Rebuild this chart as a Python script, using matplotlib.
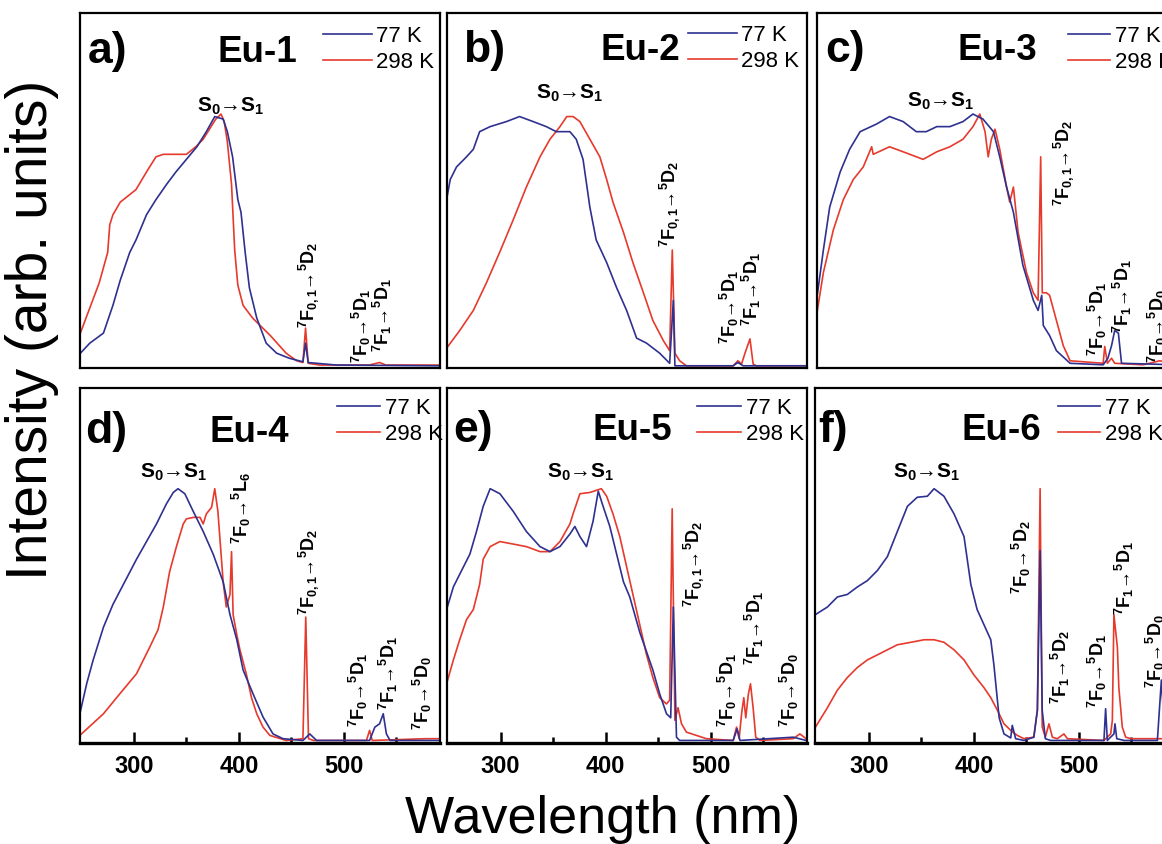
"""Eu-1 ... Eu-6 excitation spectra at 77 K and 298 K (six-panel figure)."""
import matplotlib
matplotlib.use("Agg")
import matplotlib.pyplot as plt

# ---- data: wavelength (nm) / normalised intensity ----
a_wl_77 = [249, 258, 271, 280, 287, 296, 302, 312, 321, 331, 340, 350, 360, 369, 377, 385, 389, 394,
           399, 402, 406, 410, 417, 426, 436, 448, 461, 463.5, 466, 493, 591]
a_int_77 = [0.05, 0.09, 0.13, 0.24, 0.34, 0.45, 0.50, 0.60, 0.66, 0.72, 0.77, 0.82, 0.87, 0.93, 0.99,
            0.98, 0.93, 0.83, 0.66, 0.61, 0.45, 0.31, 0.19, 0.09, 0.05, 0.03, 0.016, 0.09, 0.013, 0.003, 0.0]
a_wl_298 = [249, 258, 267, 275, 277, 280, 287, 302, 312, 321, 328, 340, 350, 359, 366, 372, 378, 383,
            386, 389, 393, 396, 399, 404, 413, 430, 445, 455, 461, 463.5, 466, 477, 524, 534, 537, 540, 591]
a_int_298 = [0.13, 0.23, 0.33, 0.45, 0.56, 0.60, 0.65, 0.70, 0.77, 0.83, 0.84, 0.84, 0.84, 0.87, 0.90,
             0.94, 0.98, 1.0, 0.97, 0.89, 0.72, 0.46, 0.32, 0.24, 0.19, 0.12, 0.05, 0.02, 0.013, 0.15,
             0.01, 0.003, 0.003, 0.013, 0.008, 0.003, 0.003]

b_wl_77 = [248.5, 252, 258, 267.5, 274, 280, 290, 305.5, 318, 331, 343.5, 353, 366, 372, 378.5, 385,
           391, 401, 410.5, 420, 429.5, 439, 451.5, 461, 464.5, 466, 470.5, 521.5, 526, 531, 591]
b_int_77 = [0.66, 0.74, 0.79, 0.83, 0.86, 0.93, 0.95, 0.97, 0.99, 0.97, 0.95, 0.93, 0.93, 0.90, 0.82,
            0.63, 0.50, 0.41, 0.31, 0.22, 0.11, 0.09, 0.05, 0.01, 0.26, 0.0, 0.0, 0.0, 0.013, 0.0, 0.0]
b_wl_298 = [248.5, 261, 274, 286.5, 299, 312, 324.5, 337.5, 347, 356.5, 363, 369, 375.5, 385, 394.5,
            401, 407, 417, 426, 436, 445, 455, 461, 463.5, 466, 470.5, 477, 521.5, 526, 529.5, 532.5,
            537.5, 540.5, 543.5, 591]
b_int_298 = [0.07, 0.14, 0.22, 0.33, 0.45, 0.58, 0.71, 0.83, 0.90, 0.95, 0.99, 0.99, 0.97, 0.90, 0.83,
             0.74, 0.65, 0.53, 0.41, 0.29, 0.18, 0.10, 0.06, 0.46, 0.05, 0.02, 0.0, 0.0, 0.02, 0.007,
             0.047, 0.107, 0.007, 0.0, 0.0]

c_wl_77 = [248.5, 255, 261, 271, 280, 290, 305.5, 318, 331, 343.5, 353, 363, 375.5, 388, 397.5, 407,
           417, 423, 429.5, 436, 445, 455, 459.5, 463, 464.5, 470.5, 477, 490, 521.5, 526, 529.5, 532.5,
           536, 539, 591]
c_int_77 = [0.26, 0.46, 0.63, 0.77, 0.86, 0.93, 0.96, 0.99, 0.97, 0.93, 0.93, 0.95, 0.95, 0.97, 1.0,
            0.98, 0.93, 0.83, 0.71, 0.61, 0.40, 0.26, 0.22, 0.28, 0.16, 0.12, 0.06, 0.01, 0.004, 0.03,
            0.08, 0.14, 0.13, 0.01, 0.004]
c_wl_298 = [248.5, 255, 264.5, 274, 283.5, 293, 301, 302.5, 318, 331, 350, 363, 375.5, 388, 397.5, 404,
            409, 412, 415, 418.5, 423, 429.5, 432.5, 436, 440.5, 448.5, 455, 459.5, 462, 463.5, 467.5,
            470.5, 477, 483.5, 490, 521.5, 523, 525.5, 529.5, 532.5, 559.5, 575.5, 591]
c_int_298 = [0.20, 0.37, 0.54, 0.66, 0.74, 0.79, 0.87, 0.84, 0.87, 0.85, 0.82, 0.85, 0.87, 0.90, 0.95,
             1.0, 0.93, 0.83, 0.90, 0.94, 0.86, 0.71, 0.65, 0.71, 0.53, 0.37, 0.29, 0.26, 0.83, 0.29,
             0.29, 0.28, 0.18, 0.08, 0.02, 0.01, 0.077, 0.01, 0.03, 0.01, 0.004, 0.02, 0.004]

d_wl_77 = [248.5, 255, 261, 271, 280, 290, 302.5, 312, 321.5, 331, 337.5, 342, 348.5, 356.5, 366, 375.5,
           385, 391.5, 398, 404, 413.5, 423, 432.5, 442, 461, 467.5, 474, 524.5, 529.5, 534, 537.5,
           540.5, 544, 591]
d_int_77 = [0.106, 0.225, 0.317, 0.45, 0.54, 0.62, 0.72, 0.79, 0.86, 0.94, 0.985, 1.0, 0.98, 0.91, 0.83,
            0.74, 0.63, 0.50, 0.40, 0.28, 0.185, 0.093, 0.026, 0.007, 0.0, 0.026, 0.0, 0.0, 0.053, 0.066,
            0.106, 0.026, 0.0, 0.0]
d_wl_298 = [248.5, 271, 286.5, 302.5, 315, 323, 328, 334, 340.5, 347, 350, 356.5, 363, 366, 369, 374,
            377, 380, 385, 388, 391.5, 393, 394.5, 398, 401, 407, 412, 417, 423, 429.5, 445, 461, 463.7,
            466.3, 471, 521.5, 524.5, 527, 578, 591]
d_int_298 = [0.02, 0.106, 0.185, 0.265, 0.37, 0.44, 0.53, 0.67, 0.77, 0.86, 0.88, 0.886, 0.886, 0.86,
             0.90, 0.926, 1.0, 0.91, 0.63, 0.53, 0.58, 0.75, 0.50, 0.42, 0.36, 0.265, 0.17, 0.106, 0.053,
             0.02, 0.0, 0.007, 0.49, 0.007, 0.0, 0.0, 0.04, 0.0, 0.007, 0.007]

e_wl_77 = [248.5, 255, 261, 270.7, 277, 283.4, 290, 299.3, 312, 324.5, 337.5, 347, 356.5, 366, 370.7,
           375.5, 381.8, 388, 393, 397.6, 404, 410.5, 417, 423, 432.5, 445, 451.5, 458, 462, 464.5, 467.5,
           470.5, 521.5, 525.3, 528, 578.7, 591]
e_int_77 = [0.52, 0.61, 0.66, 0.74, 0.83, 0.93, 1.0, 0.98, 0.91, 0.83, 0.77, 0.75, 0.77, 0.82, 0.85,
            0.81, 0.77, 0.87, 0.99, 0.93, 0.85, 0.74, 0.63, 0.57, 0.43, 0.28, 0.185, 0.106, 0.09, 0.53,
            0.013, 0.0, 0.0, 0.046, 0.0, 0.013, 0.0]
e_wl_298 = [248.5, 255, 261, 267.5, 274, 280, 283.4, 290, 299.3, 312, 324.5, 337.5, 347, 356.5, 366, 369,
            375.5, 385, 396, 401, 407, 413.5, 420, 426, 432.5, 439, 445, 451.5, 458, 461, 463.4, 466, 469,
            472.3, 477, 486.5, 496, 521.5, 524.7, 527.2, 529.5, 531.6, 533.5, 536, 538, 540.5, 543, 547,
            578.7, 585, 591]
e_int_298 = [0.225, 0.32, 0.40, 0.48, 0.52, 0.62, 0.72, 0.77, 0.79, 0.78, 0.77, 0.75, 0.75, 0.79, 0.86,
             0.90, 0.98, 0.985, 1.0, 0.97, 0.90, 0.81, 0.69, 0.58, 0.46, 0.34, 0.25, 0.17, 0.145, 0.16,
             0.92, 0.08, 0.13, 0.066, 0.033, 0.02, 0.007, 0.0, 0.053, 0.007, 0.106, 0.17, 0.09, 0.185,
             0.225, 0.13, 0.013, 0.0, 0.007, 0.026, 0.007]

f_wl_77 = [249, 260.4, 269.9, 279.4, 289, 298.5, 308, 317.5, 327, 336.6, 346, 355.6, 362, 371.4, 381,
           390.5, 397, 403, 409.5, 416, 419, 421.6, 424, 428.6, 435, 436.5, 439.7, 447.6, 457, 460.4, 463,
           465, 468, 473, 523.8, 525.4, 527, 533.3, 534.3, 536, 543, 574.7, 578.5, 582, 591]
f_int_77 = [0.50, 0.53, 0.57, 0.58, 0.61, 0.635, 0.675, 0.73, 0.83, 0.93, 0.966, 0.97, 1.0, 0.97, 0.90,
            0.81, 0.62, 0.52, 0.46, 0.40, 0.30, 0.19, 0.09, 0.026, 0.01, 0.06, 0.007, 0.0, 0.013, 0.12,
            0.754, 0.12, 0.007, 0.0, 0.0, 0.126, 0.0, 0.026, 0.066, 0.007, 0.0, 0.0, 0.24, 0.0, 0.0]
f_wl_298 = [249, 260.4, 269.9, 279.4, 289, 298.5, 308, 317.5, 327, 340, 352.5, 362, 371.4, 381, 390.5,
            400, 409.5, 416, 422.3, 428.6, 435, 441.3, 447.6, 457, 460.4, 463, 465, 468, 471.4, 474.7,
            479.4, 485.7, 489, 523.8, 530.2, 531.8, 533.3, 536.6, 538, 541.3, 544.5, 549.5, 591]
f_int_298 = [0.053, 0.13, 0.2, 0.25, 0.29, 0.32, 0.34, 0.36, 0.38, 0.39, 0.40, 0.40, 0.39, 0.36, 0.32,
             0.26, 0.21, 0.17, 0.12, 0.066, 0.04, 0.02, 0.007, 0.013, 0.12, 1.0, 0.053, 0.013, 0.066,
             0.013, 0.007, 0.026, 0.007, 0.0, 0.026, 0.08, 0.50, 0.37, 0.21, 0.053, 0.013, 0.007, 0.007]

# transition labels: (text, wavelength, intensity at label foot)
S01 = r"S$_0$→S$_1$"
F01_D2 = r"${}^7$F$_{0,1}$→${}^5$D$_2$"
F0_D1 = r"${}^7$F$_0$→${}^5$D$_1$"
F1_D1 = r"${}^7$F$_1$→${}^5$D$_1$"
F0_D0 = r"${}^7$F$_0$→${}^5$D$_0$"
F0_L6 = r"${}^7$F$_0$→${}^5$L$_6$"
F0_D2 = r"${}^7$F$_0$→${}^5$D$_2$"
F1_D2 = r"${}^7$F$_1$→${}^5$D$_2$"

a_s01 = (392, 1.01)
a_notes = [(F01_D2, 466, 0.15), (F0_D1, 516.5, 0.013), (F1_D1, 536.5, 0.053)]
b_s01 = (366, 1.06)
b_notes = [(F01_D2, 461, 0.47), (F0_D1, 518.3, 0.087), (F1_D1, 539, 0.16)]
c_s01 = (367, 1.03)
c_notes = [(F01_D2, 484, 0.635), (F0_D1, 515.7, 0.037), (F1_D1, 539.7, 0.13), (F0_D0, 573, 0.01)]
d_s01 = (338, 1.045)
d_notes = [(F0_L6, 402.5, 0.78), (F01_D2, 466.6, 0.50), (F0_D1, 514, 0.053),
           (F1_D1, 542, 0.12), (F0_D0, 574.5, 0.04)]
e_s01 = (376, 1.045)
e_notes = [(F01_D2, 483.4, 0.53), (F0_D1, 515.8, 0.053), (F1_D1, 542, 0.30), (F0_D0, 575.5, 0.053)]
f_s01 = (354.7, 1.045)
f_notes = [(F0_D2, 445, 0.58), (F1_D2, 482.6, 0.146), (F0_D1, 517.5, 0.13),
           (F1_D1, 542.9, 0.50), (F0_D0, 573, 0.21)]

BLUE = "#2e3190"
RED = "#e63a2d"

plt.rcParams["font.family"] = "Liberation Sans"
plt.rcParams["mathtext.fontset"] = "custom"
plt.rcParams["mathtext.rm"] = "Liberation Sans"
plt.rcParams["mathtext.bf"] = "Liberation Sans:bold"
plt.rcParams["mathtext.it"] = "Liberation Sans:italic"
plt.rcParams["mathtext.default"] = "bf"

fig = plt.figure(figsize=(11.62, 8.44), dpi=100)

# rect, letter, compound, 77 K, 298 K, S0->S1 label, line labels,
# letter x, name x, text baseline, legend anchor, legend handle length
panels = [
    ([0.0688, 0.5636, 0.3098, 0.4206], "a)", "Eu-1", (a_wl_77, a_int_77), (a_wl_298, a_int_298),
     a_s01, a_notes, 0.022, 0.381, 0.859, (0.675, 0.965), 2.2),
    ([0.3844, 0.5636, 0.3098, 0.4206], "b)", "Eu-2", (b_wl_77, b_int_77), (b_wl_298, b_int_298),
     b_s01, b_notes, 0.045, 0.426, 0.864, (0.670, 0.967), 2.2),
    ([0.7028, 0.5636, 0.3098, 0.4206], "c)", "Eu-3", (c_wl_77, c_int_77), (c_wl_298, c_int_298),
     c_s01, c_notes, 0.023, 0.390, 0.864, (0.698, 0.965), 1.9),
    ([0.0688, 0.1197, 0.3098, 0.4206], "d)", "Eu-4", (d_wl_77, d_int_77), (d_wl_298, d_int_298),
     d_s01, d_notes, 0.014, 0.361, 0.844, (0.714, 0.972), 1.95),
    ([0.3844, 0.1197, 0.3098, 0.4206], "e)", "Eu-5", (e_wl_77, e_int_77), (e_wl_298, e_int_298),
     e_s01, e_notes, 0.0175, 0.404, 0.849, (0.695, 0.972), 2.0),
    ([0.7014, 0.1197, 0.3098, 0.4206], "f)", "Eu-6", (f_wl_77, f_int_77), (f_wl_298, f_int_298),
     f_s01, f_notes, 0.008, 0.408, 0.849, (0.675, 0.972), 1.9),
]

for i, (rect, letter, name, cold, warm, s01, notes, lx, nx, ty, leg_xy, hlen) in enumerate(panels):
    ax = fig.add_axes(rect)
    l298, = ax.plot(*warm, color=RED, lw=1.2)
    l77, = ax.plot(*cold, color=BLUE, lw=1.2)
    ax.set_xlim(248.6, 591.5)
    ax.set_ylim(-0.01, 1.40)
    ax.set_yticks([])
    for sp in ax.spines.values():
        sp.set_linewidth(1.6)

    bottom_row = i >= 3
    if bottom_row:
        ax.spines["bottom"].set_linewidth(2.4)
        ax.set_xticks([300, 400, 500])
        ax.set_xticks([350, 450, 550], minor=True)
        ax.tick_params(axis="x", which="major", direction="in", length=8, width=1.8,
                       labelsize=17, pad=9)
        ax.tick_params(axis="x", which="minor", direction="in", length=4.5, width=1.8)
        for lab in ax.get_xticklabels():
            lab.set_fontweight("bold")
    else:
        ax.set_xticks([])

    ax.text(lx, ty, letter, transform=ax.transAxes, fontsize=32, fontweight="bold",
            ha="left", va="baseline")
    ax.text(nx, ty + 0.005, name, transform=ax.transAxes, fontsize=26.5, fontweight="bold",
            ha="left", va="baseline")

    ax.text(s01[0], s01[1], S01, fontsize=15, fontweight="bold", ha="center", va="baseline")
    for txt, wl, y in notes:
        ax.text(wl, y, txt, fontsize=13, fontweight="bold", rotation=90,
                ha="center", va="bottom")

    ax.legend([l77, l298], ["77 K", "298 K"], loc="upper left", bbox_to_anchor=leg_xy,
              frameon=False, fontsize=16, handlelength=hlen, handletextpad=0.2,
              labelspacing=0.22, borderpad=0, borderaxespad=0)

fig.text(603 / 1162, 1 - 820 / 844, "Wavelength (nm)", fontsize=37.5, ha="center", va="center")
fig.text(32 / 1162, 1 - 330 / 844, "Intensity (arb. units)", fontsize=41, rotation=90,
         ha="center", va="center")

fig.savefig("out.png", dpi=100)
